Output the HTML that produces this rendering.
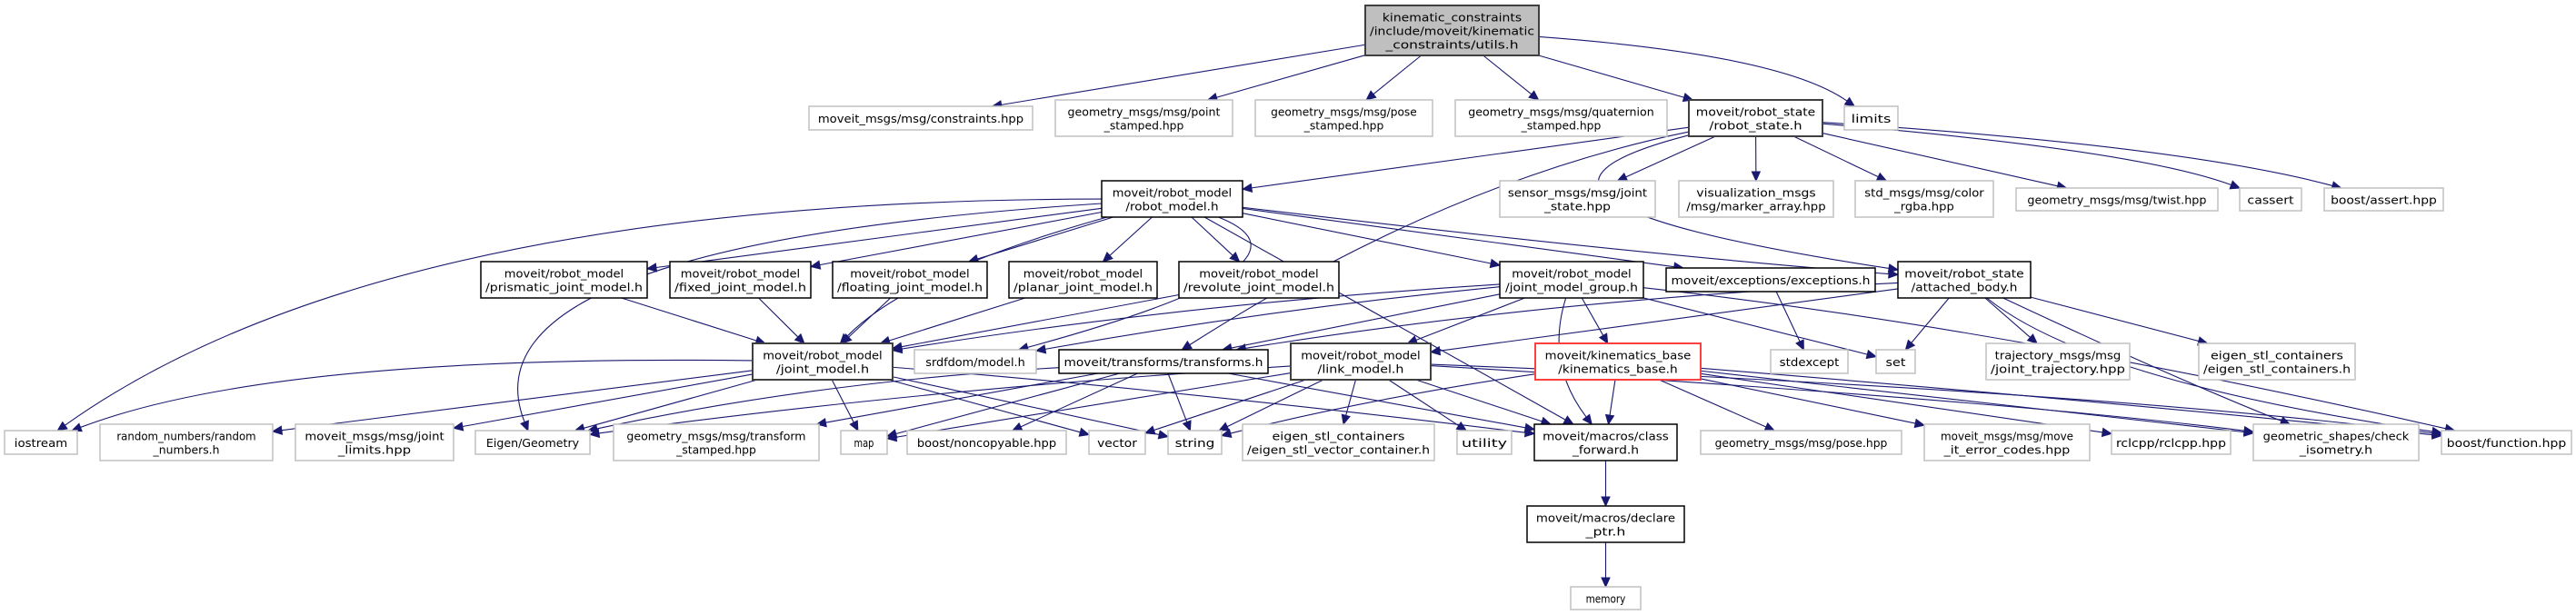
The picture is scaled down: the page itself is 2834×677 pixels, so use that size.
<!DOCTYPE html>
<html><head><meta charset="utf-8">
<style>html,body{margin:0;padding:0;background:#fff;width:2834px;height:677px;overflow:hidden}</style>
</head><body>
<svg id="g" xmlns="http://www.w3.org/2000/svg" width="2834" height="677" viewBox="0 0 2834 677"></svg>
<script>
var N={
root:[1502,6,191,55,["kinematic_constraints","/include/moveit/kinematic","_constraints/utils.h"],"root"],
chpp:[890,117,246,26,["moveit_msgs/msg/constraints.hpp"]],
pt:[1161,110,195,40,["geometry_msgs/msg/point","_stamped.hpp"]],
ps:[1381,110,195,40,["geometry_msgs/msg/pose","_stamped.hpp"]],
qs:[1601,110,233,40,["geometry_msgs/msg/quaternion","_stamped.hpp"]],
rs:[1858,110,147,40,["moveit/robot_state","/robot_state.h"],"dk"],
lim:[2029,117,59,26,["limits"]],
rm:[1212,199,155,40,["moveit/robot_model","/robot_model.h"],"bk"],
sj:[1650,199,171,40,["sensor_msgs/msg/joint","_state.hpp"]],
vm:[1847,199,170,40,["visualization_msgs","/msg/marker_array.hpp"]],
cr:[2041,199,152,40,["std_msgs/msg/color","_rgba.hpp"]],
tw:[2218,207,222,25,["geometry_msgs/msg/twist.hpp"]],
ca:[2464,207,68,25,["cassert"]],
ba:[2557,207,131,25,["boost/assert.hpp"]],
pj:[529,288,183,40,["moveit/robot_model","/prismatic_joint_model.h"],"bk"],
fj:[737,288,155,40,["moveit/robot_model","/fixed_joint_model.h"],"bk"],
flj:[916,288,170,40,["moveit/robot_model","/floating_joint_model.h"],"bk"],
plj:[1110,288,163,40,["moveit/robot_model","/planar_joint_model.h"],"bk"],
rj:[1297,288,176,40,["moveit/robot_model","/revolute_joint_model.h"],"bk"],
jmg:[1650,288,158,40,["moveit/robot_model","/joint_model_group.h"],"bk"],
ex:[1833,295,230,26,["moveit/exceptions/exceptions.h"],"bk"],
ab:[2088,288,146,40,["moveit/robot_state","/attached_body.h"],"bk"],
jm:[828,378,154,40,["moveit/robot_model","/joint_model.h"],"dk"],
sd:[1006,385,134,26,["srdfdom/model.h"]],
tf:[1165,385,230,26,["moveit/transforms/transforms.h"],"bk"],
lm:[1420,378,154,40,["moveit/robot_model","/link_model.h"],"dk"],
kb:[1689,378,182,40,["moveit/kinematics_base","/kinematics_base.h"],"red"],
se:[1948,385,85,26,["stdexcept"]],
set:[2064,385,43,26,["set"]],
tj:[2185,378,158,40,["trajectory_msgs/msg","/joint_trajectory.hpp"]],
esc:[2419,378,172,40,["eigen_stl_containers","/eigen_stl_containers.h"]],
io:[5,474,80,26,["iostream"]],
rn:[110,467,190,40,["random_numbers/random","_numbers.h"]],
jl:[325,467,174,40,["moveit_msgs/msg/joint","_limits.hpp"]],
eg:[523,474,126,26,["Eigen/Geometry"]],
ts:[675,467,226,40,["geometry_msgs/msg/transform","_stamped.hpp"]],
map:[925,474,51,26,["map"]],
bn:[998,474,175,26,["boost/noncopyable.hpp"]],
vec:[1198,474,62,26,["vector"]],
str:[1285,474,59,26,["string"]],
esv:[1367,467,211,40,["eigen_stl_containers","/eigen_stl_vector_container.h"]],
ut:[1603,474,60,26,["utility"]],
cf:[1688,467,157,40,["moveit/macros/class","_forward.h"],"bk"],
gp:[1871,474,221,26,["geometry_msgs/msg/pose.hpp"]],
me:[2117,467,182,40,["moveit_msgs/msg/move","_it_error_codes.hpp"]],
rc:[2323,474,131,26,["rclcpp/rclcpp.hpp"]],
ci:[2479,467,182,40,["geometric_shapes/check","_isometry.h"]],
bf:[2686,474,143,26,["boost/function.hpp"]],
dp:[1680,557,173,40,["moveit/macros/declare","_ptr.h"],"bk"],
mem:[1728,646,77,25,["memory"]]
};
var E=[
["root","chpp"],["root","pt"],["root","ps"],["root","qs"],["root","rs"],["root","lim",[1960,60]],
["rs","rm"],["rs","sj"],["rs","vm"],["rs","cr"],["rs","tw"],["rs","ca",[2350,165]],["rs","ba",[2400,160]],
["rs","ab",[1580,220]],["rs","tf",[1590,200]],
["rm","io",[420,220]],["rm","eg",[500,270]],["rm","pj"],["rm","fj"],["rm","flj"],["rm","plj"],["rm","rj"],
["rm","jm",[1000,300]],["rm","jmg"],["rm","ex"],["rm","ab",[1800,280]],["rm","sd",[1470,290]],["rm","cf"],
["pj","jm"],["fj","jm"],["flj","jm"],["plj","jm"],["rj","jm"],
["jmg","jm",[1300,335]],["jmg","sd",[1400,340]],["jmg","tf"],["jmg","lm"],["jmg","kb"],["jmg","set"],["jmg","bf",[2200,360]],["jmg","cf",[1700,400]],
["ex","se"],
["ab","tf",[1700,330]],["ab","lm"],["ab","set"],["ab","tj"],["ab","esc"],["ab","bf",[2300,420]],["ab","ci",[2400,420]],
["jm","io",[300,390]],["jm","rn"],["jm","jl"],["jm","eg"],["jm","map"],["jm","vec"],["jm","str"],["jm","cf",[1300,430]],
["tf","eg",[900,420]],["tf","ts"],["tf","map"],["tf","bn"],["tf","cf"],["tf","str"],
["lm","eg",[1000,430]],["lm","map"],["lm","vec"],["lm","str"],["lm","esv"],["lm","ut"],["lm","cf"],["lm","ci",[2200,440]],["lm","bf",[2300,430]],
["kb","cf"],["kb","gp"],["kb","me"],["kb","rc"],["kb","bf",[2300,440]],["kb","str",[1500,440]],["kb","ci"],
["cf","dp"],["dp","mem"]
];
var NS="http://www.w3.org/2000/svg",svg=document.getElementById("g");
function el(t,a,p){var e=document.createElementNS(NS,t);for(var k in a)e.setAttribute(k,a[k]);(p||svg).appendChild(e);return e;}
function ctr(n){return [n[0]+n[2]/2,n[1]+n[3]/2];}
function clip(n,c,p){var dx=p[0]-c[0],dy=p[1]-c[1],hw=n[2]/2,hh=n[3]/2;var t=1e9;
 if(dx)t=Math.min(t,hw/Math.abs(dx));if(dy)t=Math.min(t,hh/Math.abs(dy));return [c[0]+dx*t,c[1]+dy*t];}
var gE=el("g",{});
E.forEach(function(e){var s=N[e[0]],t=N[e[1]],cs=ctr(s),ct=ctr(t),q=e[2];
 var a=clip(s,cs,q||ct),b=clip(t,ct,q||cs);
 var dir=q?[b[0]-q[0],b[1]-q[1]]:[b[0]-a[0],b[1]-a[1]];var L=Math.hypot(dir[0],dir[1])||1;var ux=dir[0]/L,uy=dir[1]/L;
 var bb=[b[0]-ux*10,b[1]-uy*10];
 var d=q?("M"+a[0]+","+a[1]+" Q"+q[0]+","+q[1]+" "+bb[0]+","+bb[1]):("M"+a[0]+","+a[1]+" L"+bb[0]+","+bb[1]);
 el("path",{d:d,fill:"none",stroke:"#191970","stroke-width":1.1},gE);
 var px=-uy,py=ux;
 el("polygon",{points:b[0]+","+b[1]+" "+(bb[0]+px*4.5)+","+(bb[1]+py*4.5)+" "+(bb[0]-px*4.5)+","+(bb[1]-py*4.5),fill:"#191970",stroke:"#191970"},gE);
});
for(var k in N){var n=N[k],st=n[5]||"";
 var fill=st=="root"?"#bfbfbf":"#fff",stroke={root:"#404040",dk:"#404040",bk:"#000",red:"#ff4040"}[st]||"#c0c0c0",sw=st?(st=="bk"?1.5:2):1.5;
 el("rect",{x:n[0],y:n[1],width:n[2],height:n[3],fill:fill,stroke:stroke,"stroke-width":sw});
 var lines=n[4],lh=15,y0=n[1]+n[3]/2-(lines.length-1)*lh/2+5;
 lines.forEach(function(s,i){var w=Math.min(s.length*7.3,n[2]-10);
  var t=el("text",{x:n[0]+n[2]/2,y:y0+i*lh,"text-anchor":"middle","font-family":"DejaVu Sans Condensed, DejaVu Sans, Liberation Sans, sans-serif","font-size":12.5,textLength:w,lengthAdjust:"spacingAndGlyphs",fill:"#000"});
  t.textContent=s;});
}
</script>
</body></html>
